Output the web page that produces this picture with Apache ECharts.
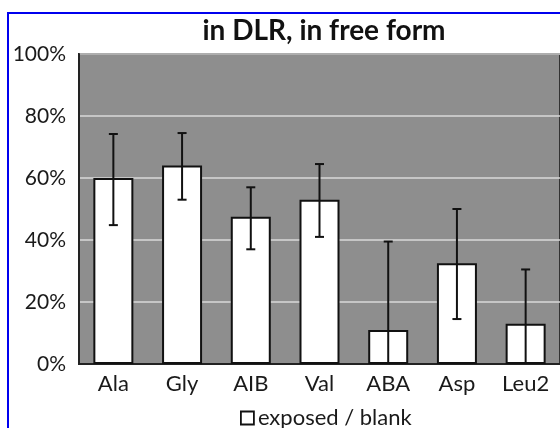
<!DOCTYPE html>
<html><head><meta charset="utf-8">
<script src="https://cdn.jsdelivr.net/npm/echarts@6/dist/echarts.min.js"></script>
<style>html,body{margin:0;padding:0;background:#fff}#c{width:560px;height:428px}</style>
</head><body><div id="c"></div>
<script>
const categories = ['Ala','Gly','AIB','Val','ABA','Asp','Leu2'];
const exposedBlank = [60, 64, 47.5, 53, 11, 32.5, 13];
const errUpper = [74.2, 74.5, 57, 64.5, 39.5, 50, 30.5];
const errLower = [44.8, 53, 37, 41, 0, 14.5, 0];
const yTicks = [0, 20, 40, 60, 80, 100];
const FONT = 'Lato';

const errData = categories.map((c, i) => [i, errLower[i], errUpper[i]]);

const chart = echarts.init(document.getElementById('c'), null, {renderer: 'canvas'});
chart.setOption({
  animation: false,
  backgroundColor: '#fff',
  textStyle: {fontFamily: FONT},
  title: {
    text: 'in DLR, in free form',
    left: 319, top: 12, textAlign: 'center',
    textStyle: {fontFamily: FONT, fontWeight: 'bold', fontSize: 28, color: '#111'}
  },
  legend: {
    data: ['exposed / blank'],
    left: 235, top: 402,
    icon: 'rect', itemWidth: 13, itemHeight: 13, itemGap: 4,
    textStyle: {fontFamily: FONT, fontSize: 22, color: '#1a1a1a', padding: [0,0,0,-1]},
    itemStyle: {color: '#fff', borderColor: '#111', borderWidth: 1.8}
  },
  grid: {
    left: 79, top: 54, width: 490, height: 310,
    show: true, backgroundColor: '#8e8e8e', borderColor: '#333', borderWidth: 2
  },
  xAxis: {
    type: 'category', data: categories,
    axisLine: {lineStyle: {color: '#222', width: 2}},
    axisTick: {show: false},
    axisLabel: {fontFamily: FONT, fontSize: 22, color: '#1a1a1a', margin: 9}
  },
  yAxis: {
    type: 'value', min: yTicks[0], max: yTicks[yTicks.length-1], interval: 20,
    axisLine: {show: true, lineStyle: {color: '#222', width: 2}},
    axisTick: {show: false},
    splitLine: {lineStyle: {color: '#d9d9d9', width: 1.5}},
    axisLabel: {fontFamily: FONT, fontSize: 21, color: '#1a1a1a', margin: 13, formatter: '{value}%'}
  },
  series: [
    {
      name: 'exposed / blank', type: 'bar', data: exposedBlank, barWidth: 40,
      itemStyle: {color: '#fff', borderColor: '#111', borderWidth: 2}
    },
    {
      type: 'custom', data: errData, z: 10,
      renderItem: function (params, api) {
        const i = api.value(0);
        const lo = api.coord([i, api.value(1)]);
        const hi = api.coord([i, api.value(2)]);
        const w = 4.5;
        const style = {stroke: '#111', lineWidth: 2};
        const children = [
          {type: 'line', shape: {x1: hi[0], y1: hi[1], x2: lo[0], y2: lo[1]}, style: style},
          {type: 'line', shape: {x1: hi[0]-w, y1: hi[1], x2: hi[0]+w, y2: hi[1]}, style: style}
        ];
        if (api.value(1) > 0) {
          children.push({type: 'line', shape: {x1: lo[0]-w, y1: lo[1], x2: lo[0]+w, y2: lo[1]}, style: style});
        }
        return {type: 'group', children: children};
      }
    }
  ],
  graphic: [
    {type: 'rect', shape: {x: 8, y: 13, width: 620, height: 500}, style: {fill: 'none', stroke: '#0000ee', lineWidth: 2}, z: 100}
  ]
});
</script></body></html>
